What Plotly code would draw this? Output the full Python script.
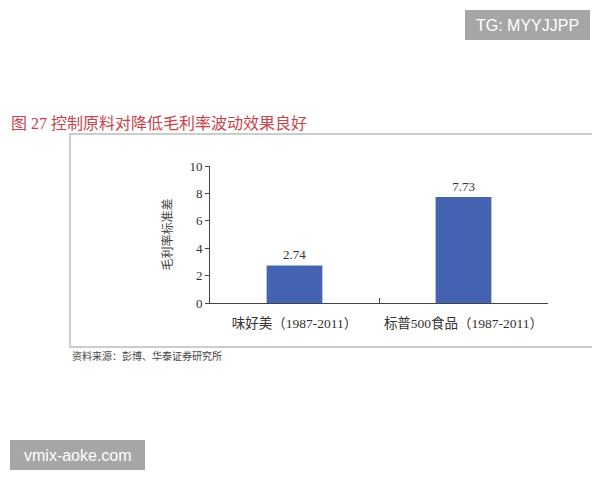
import plotly.graph_objects as go

categories = ["味好美（1987-2011）", "标普500食品（1987-2011）"]
values = [2.74, 7.73]
value_labels = ["2.74", "7.73"]
y_ticks = [0, 2, 4, 6, 8, 10]

# the page adds an 8px body margin, so screen positions are offset by OFF
OFF = 8
W, H = 600, 480
L, T = 210 - OFF, 166 - OFF
R, B = W - (548 - OFF), H - (303 - OFF)
pw, ph = W - L - R, H - T - B

def px(x):
    return (x - OFF - L) / pw

def py(y):
    return (H - B - (y - OFF)) / ph

serif = "Liberation Serif, Noto Sans CJK SC, serif"

fig = go.Figure()
fig.add_trace(go.Bar(
    x=categories, y=values, text=value_labels, textposition="outside",
    textfont=dict(family=serif, size=13, color="#333333"),
    marker=dict(color="#4464B2", line=dict(width=0)),
    width=0.33, cliponaxis=False,
))

fig.update_layout(
    width=W, height=H, margin=dict(l=L, r=R, t=T, b=B, autoexpand=False),
    paper_bgcolor="white", plot_bgcolor="white", showlegend=False,
    font=dict(family=serif, size=13, color="#333333"),
    xaxis=dict(showline=True, linecolor="#444444", linewidth=1,
               ticks="inside", ticklen=5, tickcolor="#444444",
               tickson="boundaries", showgrid=False, tickangle=0,
               ticklabelstandoff=8,
               tickfont=dict(family=serif, size=13.5, color="#333333")),
    yaxis=dict(range=[0, 10], tickvals=y_ticks, showline=True,
               linecolor="#444444", linewidth=1, ticks="outside",
               ticklen=4, tickcolor="#444444", showgrid=False,
               zeroline=False, tickfont=dict(family=serif, size=13, color="#333333"),
               title=dict(text="毛利率标准差", standoff=14,
                          font=dict(family="Noto Sans CJK SC", size=12, color="#444444"))),
)

# frame around the chart
fig.add_shape(type="rect", xref="paper", yref="paper",
              x0=px(70), x1=px(615), y0=py(347), y1=py(134),
              line=dict(color="#CCCCCC", width=2), fillcolor="rgba(0,0,0,0)")

# title
fig.add_annotation(xref="paper", yref="paper", x=px(9), y=py(123),
                   xanchor="left", yanchor="middle", showarrow=False,
                   text="图 27 控制原料对降低毛利率波动效果良好",
                   font=dict(family="Liberation Serif, Noto Sans CJK SC", size=16, color="#C8434E"))

# source
fig.add_annotation(xref="paper", yref="paper", x=px(70), y=py(355),
                   xanchor="left", yanchor="middle", showarrow=False,
                   text="资料来源：彭博、华泰证券研究所",
                   font=dict(family="Noto Sans CJK SC", size=10, color="#444444"))

# watermarks
fig.add_shape(type="rect", xref="paper", yref="paper",
              x0=px(465), x1=px(590), y0=py(40), y1=py(10),
              line=dict(width=0), fillcolor="#A6A6A6")
fig.add_annotation(xref="paper", yref="paper", x=px(527.5), y=py(25),
                   xanchor="center", yanchor="middle", showarrow=False,
                   text="TG: MYYJJPP",
                   font=dict(family="Liberation Sans", size=16, color="white"))
fig.add_shape(type="rect", xref="paper", yref="paper",
              x0=px(10), x1=px(145), y0=py(470), y1=py(440),
              line=dict(width=0), fillcolor="#A6A6A6")
fig.add_annotation(xref="paper", yref="paper", x=px(77.5), y=py(455),
                   xanchor="center", yanchor="middle", showarrow=False,
                   text="vmix-aoke.com",
                   font=dict(family="Liberation Sans", size=16, color="white"))

fig.write_html("out.html")
